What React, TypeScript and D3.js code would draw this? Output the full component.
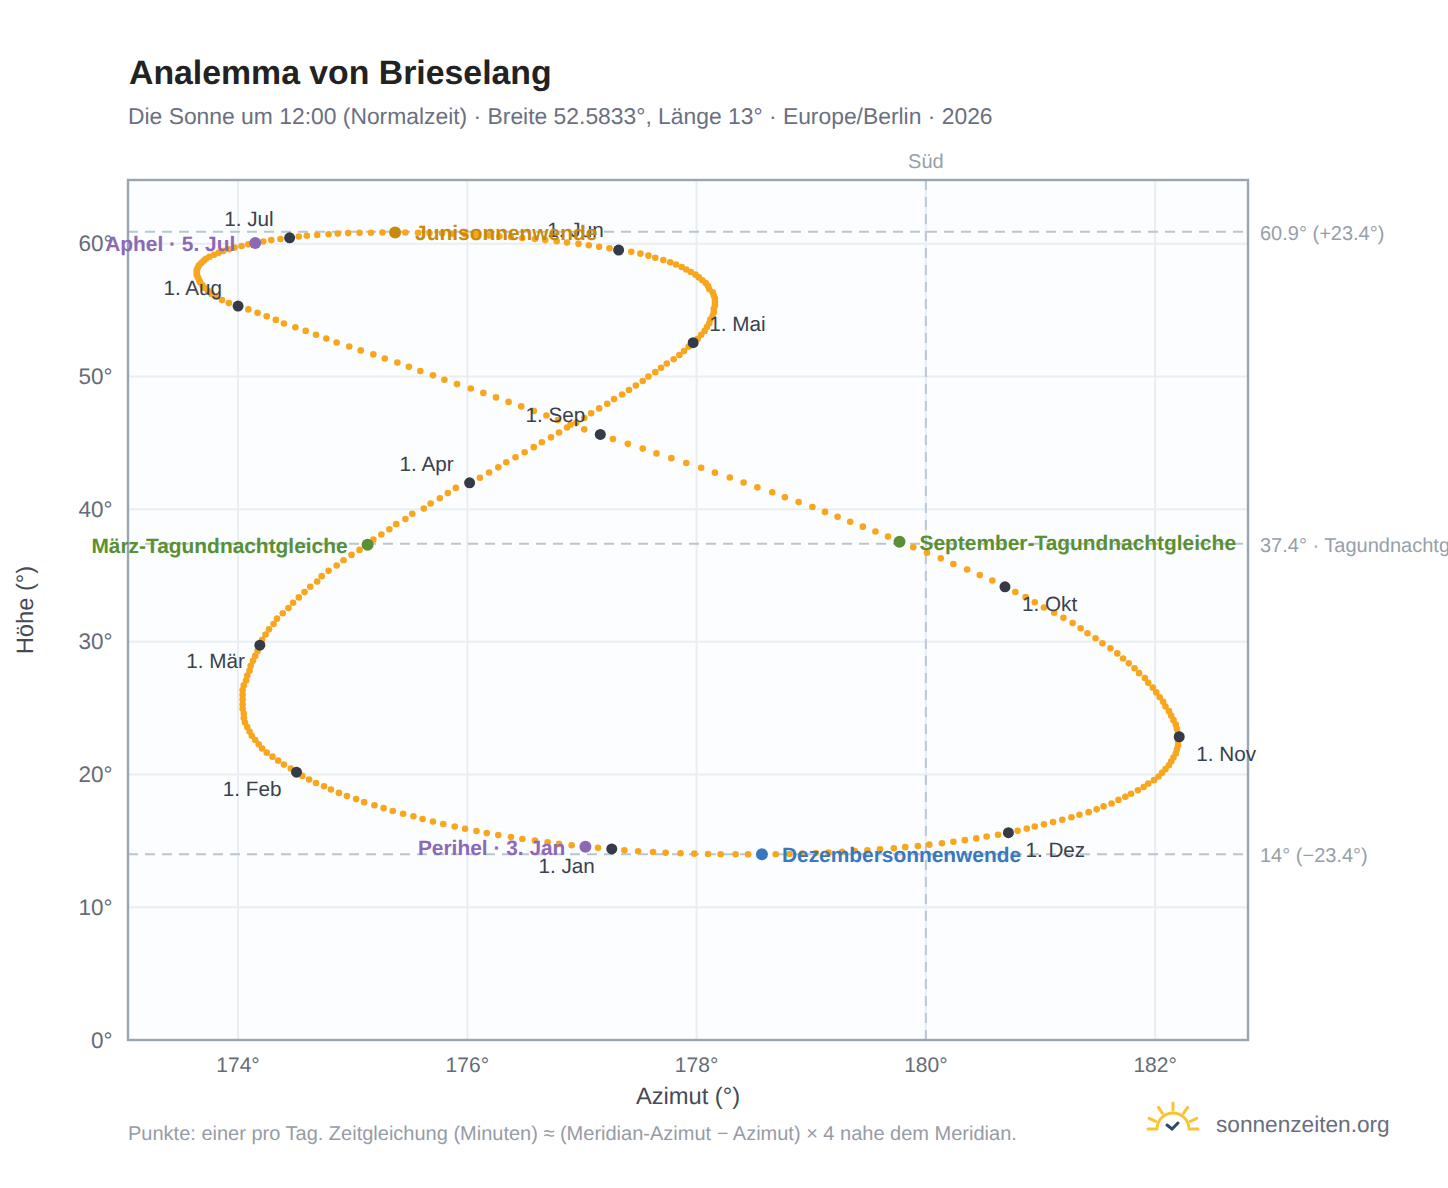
import * as d3 from 'd3';

const monthDays = [31, 28, 31, 30, 31, 30, 31, 31, 30, 31, 30, 31];
const monthLabels = ['1. Jan', '1. Feb', '1. Mär', '1. Apr', '1. Mai', '1. Jun', '1. Jul', '1. Aug', '1. Sep', '1. Okt', '1. Nov', '1. Dez'];

// one value per day, month by month
const azimut = [
  177.26, 177.14, 177.03, 176.91, 176.80, 176.70, 176.59, 176.48, 176.38, 176.27, 176.17, 176.08, 175.98, 175.89, 175.79, 175.70, 175.61, 175.53, 175.44, 175.35, 175.27, 175.19, 175.10, 175.03, 174.95, 174.88, 174.81, 174.75, 174.68, 174.62, 174.56,
  174.51, 174.46, 174.40, 174.35, 174.30, 174.25, 174.21, 174.18, 174.15, 174.12, 174.10, 174.08, 174.06, 174.05, 174.05, 174.04, 174.04, 174.04, 174.04, 174.04, 174.05, 174.07, 174.08, 174.10, 174.11, 174.13, 174.15, 174.17,
  174.19, 174.21, 174.24, 174.27, 174.31, 174.34, 174.39, 174.44, 174.48, 174.53, 174.58, 174.63, 174.69, 174.73, 174.79, 174.86, 174.92, 174.99, 175.06, 175.13, 175.18, 175.25, 175.32, 175.38, 175.46, 175.52, 175.62, 175.68, 175.76, 175.83, 175.90,
  176.02, 176.11, 176.19, 176.27, 176.34, 176.42, 176.50, 176.58, 176.65, 176.73, 176.80, 176.87, 176.95, 177.02, 177.08, 177.15, 177.22, 177.28, 177.35, 177.41, 177.47, 177.53, 177.58, 177.64, 177.69, 177.74, 177.80, 177.85, 177.89, 177.93,
  177.97, 178.01, 178.04, 178.07, 178.09, 178.11, 178.12, 178.14, 178.15, 178.15, 178.16, 178.16, 178.16, 178.15, 178.14, 178.11, 178.10, 178.08, 178.05, 178.02, 177.99, 177.95, 177.91, 177.87, 177.82, 177.77, 177.71, 177.64, 177.58, 177.51, 177.43,
  177.32, 177.24, 177.15, 177.06, 176.97, 176.87, 176.78, 176.68, 176.59, 176.48, 176.38, 176.28, 176.19, 176.08, 175.98, 175.87, 175.78, 175.67, 175.57, 175.46, 175.37, 175.26, 175.16, 175.06, 174.96, 174.87, 174.79, 174.69, 174.60, 174.53,
  174.45, 174.37, 174.29, 174.22, 174.15, 174.09, 174.03, 173.97, 173.92, 173.87, 173.83, 173.79, 173.75, 173.72, 173.70, 173.68, 173.66, 173.65, 173.64, 173.64, 173.64, 173.65, 173.66, 173.67, 173.69, 173.71, 173.74, 173.77, 173.81, 173.86, 173.92,
  174.00, 174.09, 174.17, 174.25, 174.33, 174.40, 174.50, 174.59, 174.68, 174.77, 174.86, 174.97, 175.07, 175.18, 175.28, 175.39, 175.49, 175.59, 175.70, 175.80, 175.91, 176.03, 176.14, 176.25, 176.36, 176.47, 176.58, 176.69, 176.79, 176.90, 177.02,
  177.16, 177.27, 177.40, 177.53, 177.65, 177.78, 177.91, 178.04, 178.16, 178.29, 178.41, 178.53, 178.66, 178.77, 178.89, 179.01, 179.12, 179.23, 179.34, 179.45, 179.56, 179.67, 179.77, 179.89, 180.01, 180.13, 180.24, 180.36, 180.47, 180.58,
  180.69, 180.78, 180.87, 180.95, 181.03, 181.12, 181.20, 181.28, 181.35, 181.41, 181.48, 181.54, 181.61, 181.67, 181.72, 181.77, 181.82, 181.86, 181.91, 181.94, 181.98, 182.01, 182.04, 182.07, 182.09, 182.12, 182.14, 182.16, 182.18, 182.19, 182.20,
  182.21, 182.20, 182.20, 182.19, 182.18, 182.16, 182.14, 182.12, 182.09, 182.06, 182.03, 181.99, 181.94, 181.90, 181.85, 181.79, 181.74, 181.68, 181.62, 181.55, 181.49, 181.42, 181.34, 181.27, 181.19, 181.11, 181.03, 180.95, 180.88, 180.80,
  180.72, 180.63, 180.53, 180.44, 180.34, 180.24, 180.14, 180.03, 179.93, 179.82, 179.72, 179.60, 179.49, 179.38, 179.27, 179.15, 179.04, 178.92, 178.81, 178.69, 178.57, 178.45, 178.34, 178.21, 178.10, 177.98, 177.86, 177.73, 177.62, 177.49, 177.37,
];

const hoehe = [
  14.40, 14.48, 14.57, 14.67, 14.78, 14.90, 15.02, 15.15, 15.29, 15.44, 15.59, 15.75, 15.92, 16.09, 16.27, 16.46, 16.65, 16.85, 17.05, 17.26, 17.47, 17.69, 17.92, 18.15, 18.38, 18.62, 18.87, 19.12, 19.37, 19.63, 19.90,
  20.18, 20.46, 20.75, 21.05, 21.35, 21.65, 21.96, 22.28, 22.60, 22.92, 23.25, 23.58, 23.92, 24.26, 24.60, 24.95, 25.30, 25.65, 26.01, 26.37, 26.73, 27.09, 27.46, 27.83, 28.20, 28.57, 28.94, 29.32,
  29.75, 30.15, 30.55, 30.95, 31.35, 31.75, 32.15, 32.55, 32.95, 33.35, 33.75, 34.15, 34.55, 34.95, 35.35, 35.75, 36.15, 36.55, 36.93, 37.31, 37.70, 38.09, 38.48, 38.87, 39.26, 39.65, 40.04, 40.43, 40.82, 41.21, 41.60,
  41.98, 42.37, 42.76, 43.15, 43.53, 43.91, 44.29, 44.67, 45.04, 45.41, 45.78, 46.15, 46.51, 46.87, 47.23, 47.59, 47.94, 48.29, 48.64, 48.98, 49.32, 49.66, 49.99, 50.32, 50.65, 50.97, 51.29, 51.61, 51.92, 52.23,
  52.54, 52.84, 53.14, 53.43, 53.72, 54.00, 54.28, 54.56, 54.83, 55.09, 55.35, 55.61, 55.86, 56.10, 56.34, 56.58, 56.81, 57.03, 57.25, 57.46, 57.67, 57.87, 58.06, 58.25, 58.43, 58.60, 58.77, 58.94, 59.10, 59.25, 59.39,
  59.52, 59.65, 59.77, 59.88, 59.99, 60.09, 60.18, 60.27, 60.35, 60.43, 60.50, 60.56, 60.62, 60.67, 60.71, 60.75, 60.78, 60.80, 60.82, 60.84, 60.85, 60.84, 60.83, 60.82, 60.80, 60.76, 60.71, 60.66, 60.60, 60.54,
  60.44, 60.36, 60.27, 60.17, 60.06, 59.95, 59.83, 59.71, 59.58, 59.45, 59.31, 59.17, 59.02, 58.87, 58.71, 58.55, 58.38, 58.21, 58.03, 57.85, 57.66, 57.47, 57.27, 57.07, 56.86, 56.65, 56.43, 56.21, 55.99, 55.76, 55.53,
  55.30, 55.05, 54.79, 54.53, 54.26, 53.99, 53.71, 53.43, 53.14, 52.85, 52.56, 52.26, 51.96, 51.66, 51.35, 51.04, 50.72, 50.40, 50.08, 49.75, 49.42, 49.09, 48.76, 48.42, 48.08, 47.74, 47.40, 47.06, 46.71, 46.36, 46.01,
  45.63, 45.28, 44.92, 44.56, 44.20, 43.84, 43.48, 43.12, 42.75, 42.38, 42.01, 41.64, 41.27, 40.90, 40.53, 40.16, 39.79, 39.42, 39.05, 38.68, 38.31, 37.93, 37.55, 37.13, 36.71, 36.29, 35.87, 35.45, 35.03, 34.62,
  34.15, 33.76, 33.37, 32.98, 32.59, 32.20, 31.81, 31.42, 31.03, 30.65, 30.27, 29.89, 29.51, 29.13, 28.75, 28.38, 28.01, 27.64, 27.27, 26.91, 26.55, 26.19, 25.83, 25.48, 25.13, 24.78, 24.44, 24.10, 23.76, 23.43, 23.10,
  22.85, 22.53, 22.21, 21.90, 21.59, 21.29, 20.99, 20.70, 20.41, 20.13, 19.85, 19.58, 19.32, 19.06, 18.81, 18.56, 18.32, 18.09, 17.82, 17.60, 17.38, 17.17, 16.97, 16.78, 16.60, 16.42, 16.25, 16.09, 15.93, 15.77,
  15.62, 15.47, 15.33, 15.19, 15.06, 14.94, 14.83, 14.72, 14.62, 14.53, 14.45, 14.37, 14.30, 14.24, 14.18, 14.13, 14.09, 14.05, 14.02, 14.00, 13.99, 13.99, 13.99, 14.00, 14.02, 14.04, 14.07, 14.11, 14.16, 14.22, 14.30,
];

const xTicks = [174, 176, 178, 180, 182];
const yTicks = [0, 10, 20, 30, 40, 50, 60];
const refLines = [60.9, 37.4, 14];
const refLabels = ['60.9° (+23.4°)', '37.4° · Tagundnachtgleiche', '14° (−23.4°)'];

// month index, day of month, label
const eventDates = [
  [5, 21, 'Junisonnenwende'],
  [11, 21, 'Dezembersonnenwende'],
  [2, 20, 'März-Tagundnachtgleiche'],
  [8, 23, 'September-Tagundnachtgleiche'],
  [0, 3, 'Perihel · 3. Jan'],
  [6, 5, 'Aphel · 5. Jul'],
] as [number, number, string][];
const eventColors = ['#c88a0c', '#3a78bd', '#5a9033', '#5a9033', '#8d69b5', '#8d69b5'];
const eventAnchors = ['start', 'start', 'end', 'start', 'end', 'end'];

const monthOffsets = [[-17, 24], [-15, 24], [-15, 23], [-16, -12], [16, -12], [-15, -13], [-16, -12], [-16, -11], [-15, -12], [17, 24], [17, 24], [17, 24]];
const monthAnchors = ['end', 'end', 'end', 'end', 'start', 'end', 'end', 'end', 'end', 'start', 'start', 'start'];

const font = '"Liberation Sans", Arial, sans-serif';

const App = () => {
  const x = d3.scaleLinear().domain([173.04, 182.81]).range([128, 1248]);
  const y = d3.scaleLinear().domain([0, 64.8]).range([1040, 180]);
  const starts = [0, ...d3.cumsum(monthDays)];
  const idx = (m: number, d: number) => starts[m] + d - 1;
  const rays = [-90, -56, -124, -24, -156].map((a) => (a * Math.PI) / 180);
  const sun = d3.arc()({ innerRadius: 16, outerRadius: 16, startAngle: -Math.PI / 2 + 0.08, endAngle: Math.PI / 2 - 0.08 });

  return (
    <svg width={1448} height={1188} style={{ position: 'absolute', left: 0, top: 0, background: '#fff' }} fontFamily={font} textRendering="geometricPrecision">
      <text x={129} y={84} fontSize={33.8} fontWeight="bold" fill="#222">Analemma von Brieselang</text>
      <text x={128} y={124} fontSize={22.87} fill="#6b7080">Die Sonne um 12:00 (Normalzeit) · Breite 52.5833°, Länge 13° · Europe/Berlin · 2026</text>

      <rect x={128} y={180} width={1120} height={860} fill="#fbfdff" />
      {xTicks.map((t) => (
        <line key={t} x1={x(t)} x2={x(t)} y1={180} y2={1040} stroke="#e9eef3" strokeWidth={2} />
      ))}
      {yTicks.map((t) => (
        <line key={t} x1={128} x2={1248} y1={y(t)} y2={y(t)} stroke="#e9eef3" strokeWidth={2} />
      ))}
      {refLines.map((t) => (
        <line key={t} x1={128} x2={1248} y1={y(t)} y2={y(t)} stroke="#b9c5d0" strokeWidth={2} strokeDasharray="10 7" />
      ))}
      <line x1={x(180)} x2={x(180)} y1={180} y2={1040} stroke="#b9c8d4" strokeWidth={2} strokeDasharray="10 7" />
      <rect x={128} y={180} width={1120} height={860} fill="none" stroke="#9aa6b2" strokeWidth={2.4} />

      {xTicks.map((t) => (
        <text key={t} x={x(t)} y={1072} fontSize={21} fill="#666b78" textAnchor="middle">{t}°</text>
      ))}
      {yTicks.map((t) => (
        <text key={t} x={112.5} y={y(t) + 7.5} fontSize={22.5} fill="#666b78" textAnchor="end">{t}°</text>
      ))}
      <text x={688} y={1104} fontSize={23.7} fill="#444b55" textAnchor="middle">Azimut (°)</text>
      <text transform="translate(33,610) rotate(-90)" fontSize={23.7} fill="#444b55" textAnchor="middle">Höhe (°)</text>
      <text x={x(180)} y={168} fontSize={20} fill="#96a0aa" textAnchor="middle">Süd</text>
      {refLabels.map((l, i) => (
        <text key={l} x={1260} y={y(refLines[i]) + 8} fontSize={20} fill="#96a0aa">{l}</text>
      ))}

      {azimut.map((a, i) => (
        <circle key={i} cx={x(a)} cy={y(hoehe[i])} r={3.3} fill="#f9a61f" />
      ))}

      {monthLabels.map((l, m) => {
        const i = starts[m];
        return (
          <g key={l}>
            <circle cx={x(azimut[i])} cy={y(hoehe[i])} r={5.5} fill="#343b47" />
            <text x={x(azimut[i]) + monthOffsets[m][0]} y={y(hoehe[i]) + monthOffsets[m][1]} fontSize={20.7} fill="#3a414d" textAnchor={monthAnchors[m]}>{l}</text>
          </g>
        );
      })}

      {eventDates.map(([m, d, l], k) => {
        const i = idx(m, d);
        const px = x(azimut[i]);
        return (
          <g key={l}>
            <circle cx={px} cy={y(hoehe[i])} r={6} fill={eventColors[k]} />
            <text x={px + (eventAnchors[k] === 'start' ? 20 : -20)} y={y(hoehe[i]) + 8} fontSize={20.9} fontWeight="bold" fill={eventColors[k]} textAnchor={eventAnchors[k]}>{l}</text>
          </g>
        );
      })}

      <text x={128} y={1140} fontSize={20} fill="#969ca5">Punkte: einer pro Tag. Zeitgleichung (Minuten) ≈ (Meridian-Azimut − Azimut) × 4 nahe dem Meridian.</text>

      <g transform="translate(1173,1129)" fill="none" stroke="#f8c334" strokeWidth={3} strokeLinecap="round">
        <path d={sun ?? ''} />
        <line x1={-25} x2={-16} y1={0} y2={0} />
        <line x1={16} x2={25} y1={0} y2={0} />
        {rays.map((a) => (
          <line key={a} x1={Math.cos(a) * 19} y1={Math.sin(a) * 19} x2={Math.cos(a) * 26} y2={Math.sin(a) * 26} />
        ))}
        <path d="M-6,-4 L-1,0 L5,-6" stroke="#2b4a6b" />
      </g>
      <text x={1216} y={1132} fontSize={22.65} fill="#6b6d80">sonnenzeiten.org</text>
    </svg>
  );
};

export default App;
